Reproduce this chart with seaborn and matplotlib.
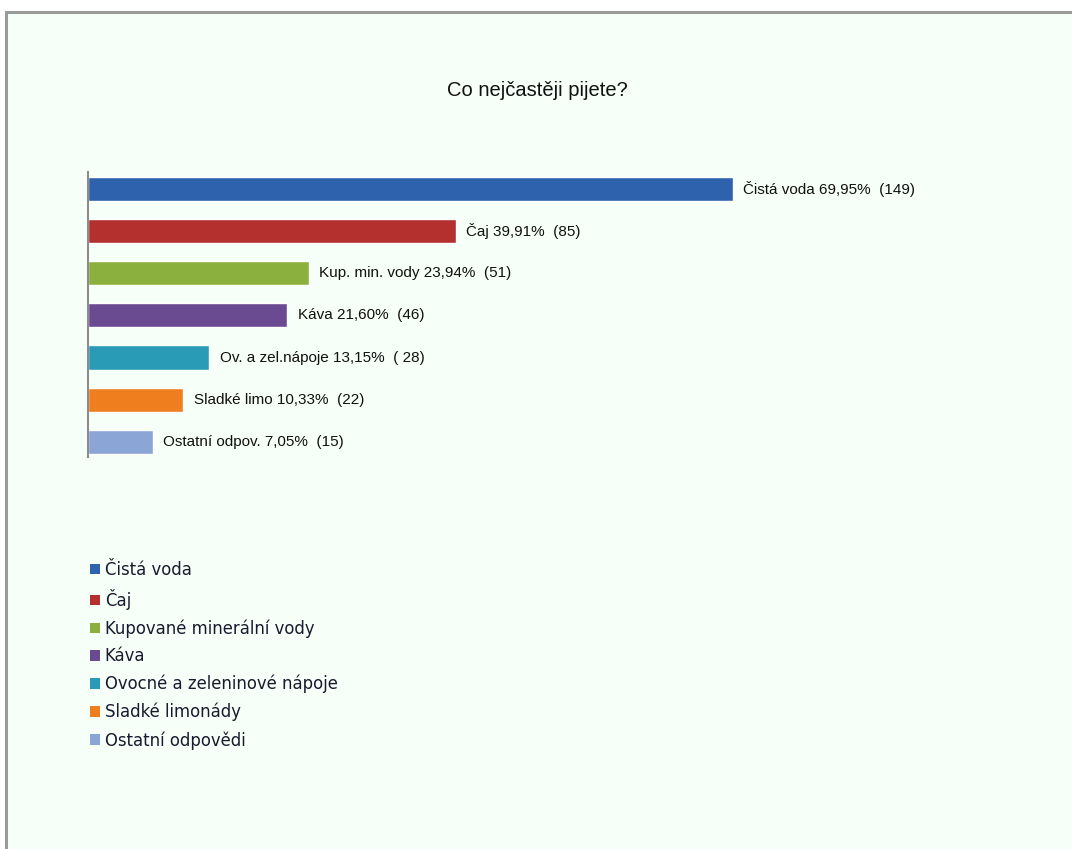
import pandas as pd
import seaborn as sns
import matplotlib.pyplot as plt
from matplotlib.patches import Rectangle, Patch

# data
short_names = ["Čistá voda", "Čaj", "Kup. min. vody", "Káva",
               "Ov. a zel.nápoje", "Sladké limo", "Ostatní odpov."]
full_names = ["Čistá voda", "Čaj", "Kupované minerální vody", "Káva",
              "Ovocné a zeleninové nápoje", "Sladké limonády", "Ostatní odpovědi"]
counts = [149, 85, 51, 46, 28, 22, 15]
percents = ["69,95%", "39,91%", "23,94%", "21,60%", "13,15%", "10,33%", "7,05%"]
count_labels = ["(149)", "(85)", "(51)", "(46)", "( 28)", "(22)", "(15)"]
colors = ["#2F62AC", "#B3302F", "#8BB03E", "#6A4B91", "#2A9BB7", "#EF7E1E", "#8AA5D6"]

df = pd.DataFrame({"name": short_names, "count": counts})

sns.set_style("white")
plt.rcParams["font.family"] = ["Liberation Sans Narrow", "Liberation Sans", "DejaVu Sans"]

fig = plt.figure(figsize=(10.72, 8.49), dpi=100, facecolor="white")

# framed mint background
fig.patches.append(Rectangle((6 / 1072, -0.01), 1.02, 1 - 12 / 849 + 0.01,
                             transform=fig.transFigure, facecolor="#F6FFF8",
                             edgecolor="#9A9A9A", linewidth=2.2, zorder=-5))

ax = fig.add_axes([88 / 1072, 392 / 849, 912 / 1072, 285 / 849])
ax.set_facecolor("none")
ax.set_zorder(2)

sns.barplot(data=df, x="count", y="name", hue="name", palette=colors,
            orient="h", width=0.57, legend=False, ax=ax, saturation=1)

ax.set_xlim(0, 149 * 912 / 645)
ax.set_ylim(6.36, -0.40)
ax.set_xticks([])
ax.set_yticks([])
ax.set_xlabel("")
ax.set_ylabel("")
for s in ["top", "right", "bottom"]:
    ax.spines[s].set_visible(False)
ax.spines["left"].set_color("#8C8C8C")
ax.spines["left"].set_linewidth(1.5)

for i, (n, c, p, cl) in enumerate(zip(short_names, counts, percents, count_labels)):
    ax.annotate(f"{n} {p}  {cl}", xy=(c, i), xytext=(7.5, 0),
                textcoords="offset points", va="center", ha="left",
                fontsize=11, color="#111111")

fig.text(537 / 1072, 1 - 91 / 849, "Co nejčastěji pijete?", ha="center",
         va="center", fontsize=14.5, color="#111111")

handles = [Patch(facecolor=col, edgecolor="none") for col in colors]
leg = fig.legend(handles, full_names, loc="upper left",
                 bbox_to_anchor=(90 / 1072, 1 - 561 / 849), frameon=False,
                 prop={"family": "DejaVu Sans", "size": 11.9},
                 handlelength=0.6, handleheight=0.6, handletextpad=0.3,
                 labelspacing=0.58, borderpad=0, borderaxespad=0)
for t in leg.get_texts():
    t.set_color("#1a1a2e")

fig.savefig("out.png", dpi=100, facecolor="white")
